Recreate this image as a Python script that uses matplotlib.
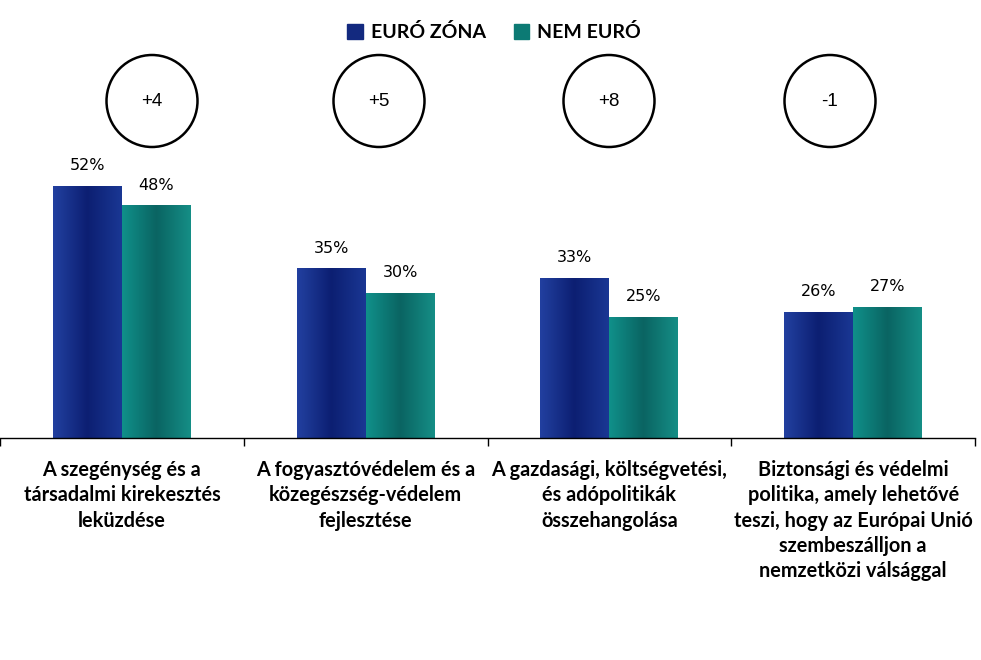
import numpy as np
import matplotlib.pyplot as plt
from matplotlib.colors import LinearSegmentedColormap
from matplotlib.patches import Ellipse, Rectangle

# values
categories = ["A szegénység és a\ntársadalmi kirekesztés\nleküzdése",
              "A fogyasztóvédelem és a\nközegészség-védelem\nfejlesztése",
              "A gazdasági, költségvetési,\nés adópolitikák\nösszehangolása",
              "Biztonsági és védelmi\npolitika, amely lehetővé\nteszi, hogy az Európai Unió\nszembeszálljon a\nnemzetközi válsággal"]
euro = [52, 35, 33, 26]
nem_euro = [48, 30, 25, 27]
diffs = ["+4", "+5", "+8", "-1"]
series_names = ["EURÓ ZÓNA", "NEM EURÓ"]

W, H = 981, 660
fig = plt.figure(figsize=(W / 100, H / 100), dpi=100)
base_px = 438
top_px = 438 - 60 * 4.85
ax = fig.add_axes([0, (H - base_px) / H, 975 / W, (base_px - top_px) / H])

x = np.arange(len(categories))
bw = 0.283
cm_euro = LinearSegmentedColormap.from_list("e", ["#2240a0", "#0c1f72", "#1a3794"])
cm_nem = LinearSegmentedColormap.from_list("n", ["#10908a", "#0a6462", "#158e86"])
grad = np.linspace(0, 1, 200).reshape(1, -1)

b1 = ax.bar(x - bw / 2, euro, bw, color="#13297f", linewidth=0)
b2 = ax.bar(x + bw / 2, nem_euro, bw, color="#0c7a74", linewidth=0)
for bars, cm in ((b1, cm_euro), (b2, cm_nem)):
    for p in bars:
        x0, y0 = p.get_x(), p.get_y()
        im = ax.imshow(grad, cmap=cm, aspect="auto", zorder=2,
                       extent=[x0, x0 + p.get_width(), y0, y0 + p.get_height()])
        im.set_clip_path(p)

for bars, vals in ((b1, euro), (b2, nem_euro)):
    for p, v in zip(bars, vals):
        ax.annotate(f"{v}%", (p.get_x() + p.get_width() / 2, v),
                    xytext=(0, 14.5), textcoords="offset points",
                    ha="center", va="center", fontsize=11.5, family="DejaVu Sans")

ax.set_xlim(-0.5, len(categories) - 0.5)
ax.set_ylim(0, 60)
for s in ("top", "right", "left"):
    ax.spines[s].set_visible(False)
ax.spines["bottom"].set_linewidth(1)
ax.set_yticks([])
ax.set_xticks(np.arange(-0.5, len(categories) + 0.5, 1))
ax.set_xticklabels([])
ax.tick_params(axis="x", length=6, width=1, direction="out")

for i, c in enumerate(categories):
    ax.text(i, -4.6, c, ha="center", va="top", fontsize=14.3,
            family="Lato", fontweight="bold", linespacing=1.32)

# difference circles
circle_x = [152, 379, 609, 830]
for cx, d in zip(circle_x, diffs):
    fig.patches.append(Ellipse((cx / W, 1 - 101 / H), 91 / W, 92 / H,
                               transform=fig.transFigure, fill=False,
                               edgecolor="black", linewidth=1.8))
    fig.text(cx / W, 1 - 101 / H, d, ha="center", va="center",
             fontsize=13.5, family="Liberation Sans")

handles = [Rectangle((0, 0), 1, 1, color="#13297f"), Rectangle((0, 0), 1, 1, color="#0c7a74")]
fig.legend(handles, series_names, loc="center", bbox_to_anchor=(494 / W, 1 - 32 / H),
           ncol=2, frameon=False, handlelength=0.8, handleheight=0.8,
           handletextpad=0.4, columnspacing=1.45,
           prop={"family": "Lato", "weight": "bold", "size": 14})

fig.savefig("out.png", dpi=100)
